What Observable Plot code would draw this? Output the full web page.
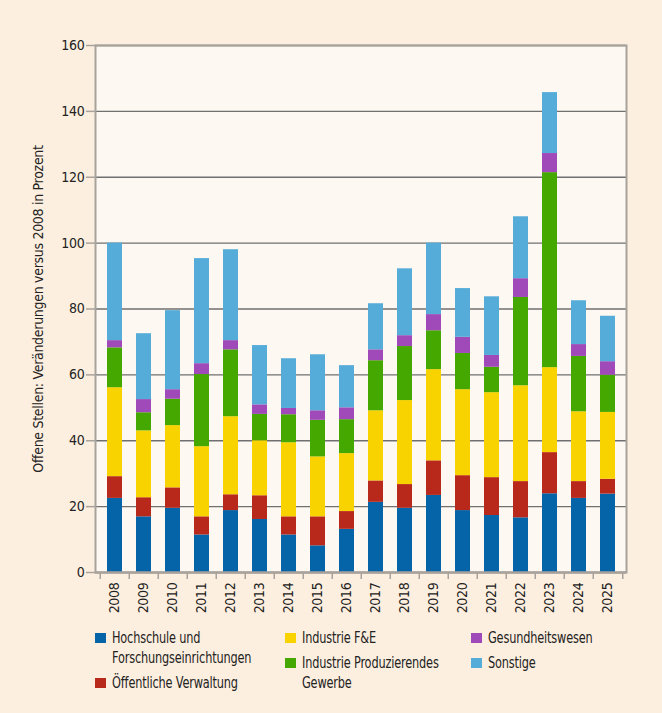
<!DOCTYPE html>
<html lang="de">
<head>
<meta charset="utf-8">
<script src="https://cdn.jsdelivr.net/npm/d3@7"></script>
<script src="https://cdn.jsdelivr.net/npm/@observablehq/plot@0.6"></script>
<style>
  html, body { margin: 0; padding: 0; background: #fdefdf; }
  body { width: 662px; height: 713px; overflow: hidden; font-family: "DejaVu Sans Condensed", "DejaVu Sans", sans-serif; font-stretch: condensed; color: #222; }
  #chart svg { display: block; }
  #legend { position: relative; height: 93px; font-size: 15px; line-height: 20px; letter-spacing: -0.2px; }
  .col { position: absolute; top: 8px; }
  .item { display: flex; align-items: flex-start; margin-bottom: 5px; }
  .sw { width: 11px; height: 10px; flex: none; margin-top: 5px; margin-right: 6px; }
  .lbl { display: inline-block; white-space: nowrap; transform: scaleX(0.84); transform-origin: left center; }
</style>
</head>
<body>
<div id="chart"></div>
<div id="legend"></div>
<script>
// Offene Stellen nach Bereich, Index 2008 = 100
const years = ["2008","2009","2010","2011","2012","2013","2014","2015","2016","2017","2018","2019","2020","2021","2022","2023","2024","2025"];
const hochschule   = [22.5, 16.9, 19.5, 11.4, 18.8, 16.1, 11.4,  8.1, 13.1, 21.3, 19.5, 23.4, 18.8, 17.3, 16.6, 23.9, 22.5, 23.8];
const verwaltung   = [ 6.6,  5.8,  6.2,  5.5,  4.8,  7.2,  5.5,  8.8,  5.4,  6.5,  7.2, 10.5, 10.6, 11.5, 11.0, 12.5,  5.1,  4.5];
const industrieFE  = [27.0, 20.3, 18.9, 21.3, 23.7, 16.7, 22.5, 18.2, 17.6, 21.3, 25.5, 27.7, 26.1, 25.8, 29.1, 25.8, 21.2, 20.3];
const produzierend = [12.1,  5.5,  8.0, 21.9, 20.3,  8.0,  8.5, 11.1, 10.3, 15.2, 16.4, 11.8, 11.0,  7.7, 26.8, 59.2, 16.8, 11.3];
const gesundheit   = [ 2.2,  4.0,  2.9,  3.3,  2.8,  2.9,  1.9,  2.9,  3.6,  3.3,  3.3,  4.9,  4.9,  3.6,  5.7,  5.8,  3.6,  4.1];
const sonstige     = [29.6, 20.0, 24.0, 31.9, 27.6, 18.0, 15.1, 17.0, 12.8, 14.0, 20.3, 21.7, 14.8, 17.8, 18.8, 18.5, 13.3, 13.8];

const seriesNames = [
  "Hochschule und Forschungseinrichtungen",
  "Öffentliche Verwaltung",
  "Industrie F&E",
  "Industrie Produzierendes Gewerbe",
  "Gesundheitswesen",
  "Sonstige"
];
const seriesValues = [hochschule, verwaltung, industrieFE, produzierend, gesundheit, sonstige];
const seriesColors = ["#0563a8", "#b8281b", "#f9d300", "#45a800", "#a049b9", "#55acd9"];
const yTicks = [0, 20, 40, 60, 80, 100, 120, 140, 160];
const yTitle = "Offene Stellen: Veränderungen versus 2008 in Prozent";

// Legend layout: columns of entries; some labels wrap onto two lines
const legendColumns = [
  [["Hochschule und", "Forschungseinrichtungen"], ["Öffentliche Verwaltung"]],
  [["Industrie F&E"], ["Industrie Produzierendes", "Gewerbe"]],
  [["Gesundheitswesen"], ["Sonstige"]]
];

const rows = [];
seriesNames.forEach((name, i) => {
  years.forEach((year, j) => rows.push({year, series: name, value: seriesValues[i][j]}));
});

const W = 662, H = 620;
const mL = 95, mR = 36, mT = 45, mB = 48;
const step = (W - mL - mR) / years.length;
const axisGray = "#a8a29c";
const fontStack = '"DejaVu Sans Condensed", "DejaVu Sans", sans-serif';

const chart = Plot.plot({
  width: W,
  height: H,
  marginLeft: mL,
  marginRight: mR,
  marginTop: mT,
  marginBottom: mB,
  style: {
    background: "transparent",
    fontFamily: fontStack,
    fontStretch: "condensed",
    fontSize: "14px",
    letterSpacing: "-0.3px",
    color: "#222"
  },
  x: {type: "band", domain: years, paddingInner: 0.5, paddingOuter: 0.25, axis: null},
  y: {domain: [0, 160], axis: null},
  color: {domain: seriesNames, range: seriesColors},
  marks: [
    Plot.frame({fill: "#fdf8f1"}),
    Plot.gridY(yTicks, {stroke: "#707070", strokeOpacity: 1, strokeWidth: 1.3}),
    Plot.barY(rows, {x: "year", y: "value", fill: "series"}),
    Plot.ruleY([0], {stroke: axisGray, strokeWidth: 2}),
    Plot.frame({stroke: axisGray, strokeWidth: 2}),
    Plot.axisY(yTicks, {tickSize: 9, tickPadding: 2, stroke: axisGray, strokeWidth: 1.5, fill: "#222", label: null}),
    // year labels under each bar
    Plot.axisX({tickSize: 0, tickPadding: 10, tickRotate: -90, fill: "#222", label: null}),
    // tick marks at the boundaries between years
    Plot.axisX({tickSize: 7, tickFormat: () => "", dx: -step / 2, stroke: axisGray, strokeWidth: 1.5, label: null}),
    Plot.axisX(years.slice(-1), {tickSize: 7, tickFormat: () => "", dx: step / 2, stroke: axisGray, strokeWidth: 1.5, label: null}),
    Plot.text([yTitle], {frameAnchor: "left", dx: -57, rotate: -90, textAnchor: "middle", fill: "#222", fontSize: 14, style: "letter-spacing:-0.5px"})
  ]
});
document.getElementById("chart").appendChild(chart);

// HTML legend below the chart
const colLeft = [95, 285, 471];
const legend = document.getElementById("legend");
legendColumns.forEach((col, c) => {
  const div = document.createElement("div");
  div.className = "col";
  div.style.left = colLeft[c] + "px";
  col.forEach(lines => {
    const idx = seriesNames.indexOf(lines.join(" "));
    const item = document.createElement("div");
    item.className = "item";
    const sw = document.createElement("span");
    sw.className = "sw";
    sw.style.background = seriesColors[idx];
    const label = document.createElement("span");
    label.className = "lbl";
    label.innerHTML = lines.map(t => t.replace(/&/g, "&amp;")).join("<br>");
    item.appendChild(sw);
    item.appendChild(label);
    div.appendChild(item);
  });
  legend.appendChild(div);
});
</script>
</body>
</html>
